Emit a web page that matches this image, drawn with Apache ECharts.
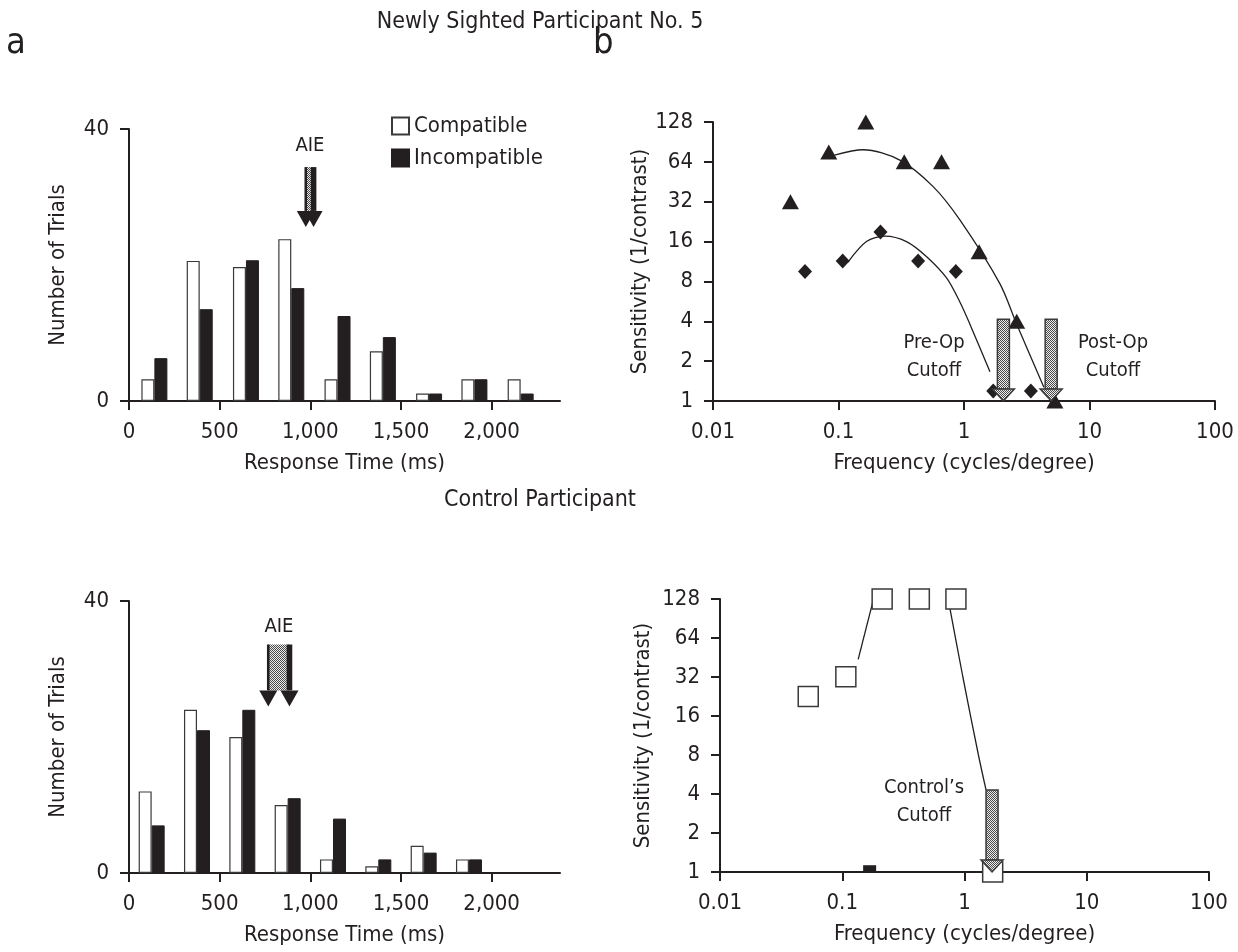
<!DOCTYPE html>
<html>
<head>
<meta charset="utf-8">
<script src="https://cdn.jsdelivr.net/npm/echarts@6/dist/echarts.min.js"></script>
<style>
html, body { margin: 0; padding: 0; background: #fff; }
#main { width: 1238px; height: 952px; }
</style>
</head>
<body>
<div id="main"></div>
<script>
// histogram, newly sighted participant (bin centres in ms, trial counts)
var binsPatient = [140, 390, 645, 895, 1150, 1400, 1655, 1905, 2160];
var compatPatient = [3.2, 20.6, 19.7, 23.8, 3.2, 7.3, 1.1, 3.2, 3.2];
var incompatPatient = [6.3, 13.5, 20.7, 16.6, 12.5, 9.4, 1.1, 3.2, 1.1];
var aiePatient = [975, 1018];          // compatible / incompatible means
var aiePatientY = [34.4, 25.6];        // arrow top / tip

// histogram, control participant
var binsControl = [125, 375, 625, 875, 1125, 1375, 1625, 1875];
var compatControl = [12, 24, 20, 10, 2, 1, 4, 2];
var incompatControl = [7, 21, 24, 11, 8, 2, 3, 2];
var aieControl = [768, 885];
var aieControlY = [33.6, 24.5];

var rtTicks = [0, 500, 1000, 1500, 2000];

// contrast sensitivity, newly sighted participant
var postOpFreq = [0.0414, 0.0837, 0.165, 0.334, 0.662, 1.32, 2.63, 5.3];
var postOpSens = [32, 76, 128, 64, 64, 13.4, 4, 1];
var preOpFreq = [0.0541, 0.108, 0.216, 0.431, 0.861, 1.71, 3.41];
var preOpSens = [9.5, 11.4, 18.9, 11.4, 9.5, 1.19, 1.19];
var postOpFitFreq = [0.093, 0.157, 0.308, 0.568, 0.927, 1.93, 2.62, 4.33];
var postOpFitSens = [72, 79, 66, 41.6, 23.3, 7.7, 3.84, 1.27];
var preOpFitFreq = [0.119, 0.167, 0.234, 0.348, 0.504, 0.726, 0.927, 1.11, 1.61];
var preOpFitSens = [11.2, 16, 17.6, 16, 12.3, 8.5, 5.6, 3.84, 1.66];
var cutoffFreq = [2.06, 4.95];         // pre-op, post-op
var cutoffTop = [4.15, 4.15];

// contrast sensitivity, control
var controlFreq = [0.0527, 0.107, 0.212, 0.427, 0.851, 1.70];
var controlSens = [22.6, 32.2, 128, 128, 128, 1];
var controlFilledFreq = [0.1675];
var controlFilledSens = [1.06];
var controlFitAFreq = [0.135, 0.18];
var controlFitASens = [43.8, 127];
var controlFitBFreq = [0.736, 0.97, 1.3, 1.5];
var controlFitBSens = [127, 32, 8, 4.3];
var controlCutoffFreq = [1.68];
var controlCutoffTop = [4.3];

var INK = '#231f20';
var FONT = "'Liberation Sans Narrow', 'DejaVu Sans Condensed', 'Liberation Sans', sans-serif";

function zip(a, b) {
    var out = [];
    for (var i = 0; i < a.length; i++) out.push([a[i], b[i]]);
    return out;
}

function dither() {
    var c = document.createElement('canvas');
    c.width = 2; c.height = 2;
    var g = c.getContext('2d');
    g.fillStyle = '#ececec'; g.fillRect(0, 0, 2, 2);
    g.fillStyle = '#4a4a4a'; g.fillRect(0, 0, 1, 1); g.fillRect(1, 1, 1, 1);
    return c;
}
var grayFill = { image: dither(), repeat: 'repeat' };

function thousands(v) {
    return String(v).replace(/\B(?=(\d{3})+(?!\d))/g, ',');
}
function logLabel(v) {
    return String(+v.toPrecision(3));
}

function rtAxis(gridIndex) {
    return {
        type: 'value', gridIndex: gridIndex, min: 0, max: 2377, interval: 500,
        name: 'Response Time (ms)', nameLocation: 'middle', nameGap: 51,
        nameTextStyle: { fontFamily: FONT, fontSize: 22, color: INK },
        axisLine: { lineStyle: { color: INK, width: 2 } },
        axisTick: { length: 9, lineStyle: { color: INK, width: 2 }, customValues: rtTicks },
        axisLabel: { margin: 20, fontFamily: FONT, fontSize: 22, color: INK,
            customValues: rtTicks, formatter: thousands },
        splitLine: { show: false }
    };
}
function countAxis(gridIndex) {
    return {
        type: 'value', gridIndex: gridIndex, min: 0, max: 40, interval: 40,
        name: 'Number of Trials', nameLocation: 'middle', nameGap: 60,
        nameTextStyle: { fontFamily: FONT, fontSize: 22, color: INK },
        axisLine: { show: true, lineStyle: { color: INK, width: 2 } },
        axisTick: { show: true, length: 9, lineStyle: { color: INK, width: 2 } },
        axisLabel: { margin: 20, fontFamily: FONT, fontSize: 22, color: INK },
        splitLine: { show: false }
    };
}
function freqAxis(gridIndex) {
    return {
        type: 'log', logBase: 10, gridIndex: gridIndex, min: 0.01, max: 100, splitNumber: 4,
        name: 'Frequency (cycles/degree)', nameLocation: 'middle', nameGap: 51,
        nameTextStyle: { fontFamily: FONT, fontSize: 22, color: INK },
        axisLine: { lineStyle: { color: INK, width: 2 } },
        axisTick: { length: 9, lineStyle: { color: INK, width: 2 } },
        axisLabel: { margin: 20, fontFamily: FONT, fontSize: 22, color: INK, formatter: logLabel },
        minorTick: { show: false },
        splitLine: { show: false }
    };
}
function sensAxis(gridIndex, gap) {
    return {
        type: 'log', logBase: 2, gridIndex: gridIndex, min: 1, max: 128, splitNumber: 7,
        name: 'Sensitivity (1/contrast)', nameLocation: 'middle', nameGap: gap,
        nameTextStyle: { fontFamily: FONT, fontSize: 22, color: INK },
        axisLine: { show: true, lineStyle: { color: INK, width: 2 } },
        axisTick: { show: true, length: 9, lineStyle: { color: INK, width: 2 } },
        axisLabel: { margin: 20, fontFamily: FONT, fontSize: 22, color: INK, formatter: logLabel },
        splitLine: { show: false }
    };
}

function bars(name, idx, bins, vals, dark) {
    return {
        name: name, type: 'bar', xAxisIndex: idx, yAxisIndex: idx,
        barWidth: 13, barGap: '0%',
        itemStyle: dark ? { color: INK, borderColor: INK, borderWidth: 1 }
                        : { color: '#fff', borderColor: '#3a3a3a', borderWidth: 1.2 },
        data: zip(bins, vals)
    };
}

// two overlapping mean arrows with dithered fill between them
function aieArrow(idx, means, ys) {
    return {
        type: 'custom', xAxisIndex: idx, yAxisIndex: idx, clip: false, z: 5,
        data: [[means[0], means[1], ys[0], ys[1]]],
        renderItem: function (params, api) {
            var l = api.coord([api.value(0), api.value(2)]);
            var r = api.coord([api.value(1), api.value(2)]);
            var tl = api.coord([api.value(0), api.value(3)]);
            var tr = api.coord([api.value(1), api.value(3)]);
            var hh = 16, hw = 9;
            var base = tl[1] - hh;
            return { type: 'group', children: [
                { type: 'rect', shape: { x: l[0], y: l[1], width: r[0] - l[0], height: base - l[1] },
                  style: { fill: grayFill } },
                { type: 'rect', shape: { x: l[0] - 1.3, y: l[1], width: 2.6, height: base - l[1] },
                  style: { fill: INK } },
                { type: 'rect', shape: { x: r[0] - 2.8, y: r[1], width: 5.6, height: base - r[1] },
                  style: { fill: INK } },
                { type: 'polygon', shape: { points: [[tl[0] - hw, base], [tl[0] + hw, base], [tl[0], tl[1]]] },
                  style: { fill: INK } },
                { type: 'polygon', shape: { points: [[tr[0] - hw, base], [tr[0] + hw, base], [tr[0], tr[1]]] },
                  style: { fill: INK } }
            ] };
        }
    };
}

// single cutoff arrow, dithered shaft and head, drawn down to sensitivity 1
function cutoffArrow(idx, freqs, tops) {
    return {
        type: 'custom', xAxisIndex: idx, yAxisIndex: idx, clip: false, z: 6,
        data: zip(freqs, tops),
        renderItem: function (params, api) {
            var top = api.coord([api.value(0), api.value(1)]);
            var tip = api.coord([api.value(0), 1]);
            var sw = 6, hw = 11, hh = 12;
            var base = tip[1] - hh;
            return { type: 'group', children: [
                { type: 'rect', shape: { x: top[0] - sw, y: top[1], width: sw * 2, height: base - top[1] },
                  style: { fill: grayFill, stroke: '#3a3a3a', lineWidth: 1.5 } },
                { type: 'polygon', shape: { points: [[tip[0] - hw, base], [tip[0] + hw, base], [tip[0], tip[1]]] },
                  style: { fill: grayFill, stroke: '#3a3a3a', lineWidth: 1.5 } }
            ] };
        }
    };
}

function fitLine(idx, fx, fy) {
    return {
        type: 'line', xAxisIndex: idx, yAxisIndex: idx, smooth: 0.3, symbol: 'none', z: 3,
        lineStyle: { color: INK, width: 1.3 }, data: zip(fx, fy)
    };
}

function txt(text, x, y, size, align) {
    return { type: 'text', x: x, y: y, z: 10,
        style: { text: text, fontFamily: FONT, fontSize: size, fill: INK,
                 align: align || 'center', verticalAlign: 'middle', lineHeight: 28 } };
}

var chart = echarts.init(document.getElementById('main'));
chart.setOption({
    animation: false,
    backgroundColor: '#fff',
    textStyle: { fontFamily: FONT },
    grid: [
        { left: 129, top: 129, width: 431, height: 272 },
        { left: 713, top: 122, width: 502, height: 279 },
        { left: 129, top: 601, width: 431, height: 272 },
        { left: 720, top: 599, width: 489, height: 273 }
    ],
    legend: {
        data: ['Compatible', 'Incompatible'], orient: 'vertical', left: 386, top: 110,
        icon: 'rect', itemWidth: 17, itemHeight: 17, itemGap: 10,
        textStyle: { fontFamily: FONT, fontSize: 22, color: INK }
    },
    xAxis: [rtAxis(0), freqAxis(1), rtAxis(2), freqAxis(3)],
    yAxis: [countAxis(0), sensAxis(1, 60), countAxis(2), sensAxis(3, 66)],
    series: [
        bars('Compatible', 0, binsPatient, compatPatient, false),
        bars('Incompatible', 0, binsPatient, incompatPatient, true),
        aieArrow(0, aiePatient, aiePatientY),
        bars('Compatible', 2, binsControl, compatControl, false),
        bars('Incompatible', 2, binsControl, incompatControl, true),
        aieArrow(2, aieControl, aieControlY),

        fitLine(1, postOpFitFreq, postOpFitSens),
        fitLine(1, preOpFitFreq, preOpFitSens),
        { type: 'scatter', xAxisIndex: 1, yAxisIndex: 1, clip: false, z: 4,
          symbol: 'triangle', symbolSize: [17, 15], itemStyle: { color: INK, opacity: 1 },
          data: zip(postOpFreq, postOpSens) },
        { type: 'scatter', xAxisIndex: 1, yAxisIndex: 1, clip: false, z: 4,
          symbol: 'diamond', symbolSize: [14, 15], itemStyle: { color: INK, opacity: 1 },
          data: zip(preOpFreq, preOpSens) },
        cutoffArrow(1, cutoffFreq, cutoffTop),

        fitLine(3, controlFitAFreq, controlFitASens),
        fitLine(3, controlFitBFreq, controlFitBSens),
        { type: 'scatter', xAxisIndex: 3, yAxisIndex: 3, clip: false, z: 4,
          symbol: 'rect', symbolSize: 20,
          itemStyle: { color: '#fff', borderColor: '#3a3a3a', borderWidth: 1.5, opacity: 1 },
          data: zip(controlFreq, controlSens) },
        { type: 'scatter', xAxisIndex: 3, yAxisIndex: 3, clip: false, z: 4,
          symbol: 'rect', symbolSize: [13, 7], itemStyle: { color: INK, opacity: 1 },
          data: zip(controlFilledFreq, controlFilledSens) },
        cutoffArrow(3, controlCutoffFreq, controlCutoffTop)
    ],
    graphic: [
        txt('Newly Sighted Participant No. 5', 540, 22, 23),
        txt('Control Participant', 540, 500, 23),
        txt('a', 6, 44, 36, 'left'),
        txt('b', 593, 44, 36, 'left'),
        txt('AIE', 310, 146, 20),
        txt('AIE', 279, 627, 20),
        txt('Pre-Op\nCutoff', 934, 357, 20),
        txt('Post-Op\nCutoff', 1113, 357, 20),
        txt('Control\u2019s\nCutoff', 924, 802, 20)
    ]
});
</script>
</body>
</html>
